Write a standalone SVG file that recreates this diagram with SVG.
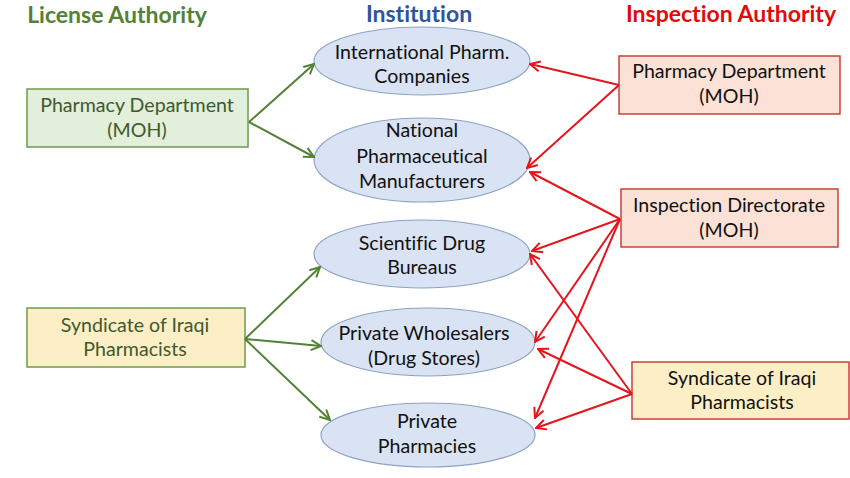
<svg xmlns="http://www.w3.org/2000/svg" width="850" height="478" viewBox="0 0 850 478">
<defs>
<marker id="ag" viewBox="0 0 12 12" refX="11" refY="6" markerWidth="12" markerHeight="12" markerUnits="userSpaceOnUse" orient="auto">
<path d="M1,1 L11,6 L1,11" fill="none" stroke="#548235" stroke-width="2"/>
</marker>
<marker id="ar" viewBox="0 0 12 12" refX="11" refY="6" markerWidth="12" markerHeight="12" markerUnits="userSpaceOnUse" orient="auto">
<path d="M1,1 L11,6 L1,11" fill="none" stroke="#e3161d" stroke-width="2"/>
</marker>
</defs>
<style>
text{font-family:Lato,"Open Sans","Liberation Sans",sans-serif;font-size:19.6px;text-anchor:middle;fill:#111;font-variant-ligatures:none;font-feature-settings:"liga" 0}
.title{font-size:23px;font-weight:bold}
.lt{fill:#40592e}
.gbox{fill:#e2efda;stroke:#6d9a4a;stroke-width:1.5}
.ybox{fill:#fcefc5;stroke:#6d9a4a;stroke-width:1.5}
.rbox{fill:#fbe1d6;stroke:#c8413c;stroke-width:1.5}
.rybox{fill:#fcefc5;stroke:#c8413c;stroke-width:1.5}
.ell{fill:#dae3f3;stroke:#8da3c4;stroke-width:1.2}
.g{stroke:#548235;stroke-width:2;fill:none;marker-end:url(#ag)}
.r{stroke:#e3161d;stroke-width:2;fill:none;marker-end:url(#ar)}
</style>
<rect width="850" height="478" fill="#fff"/>
<text class="title" x="117" y="23" style="fill:#538135">License Authority</text>
<text class="title" x="419" y="22" style="fill:#2f5597">Institution</text>
<text class="title" x="731" y="22" style="fill:#e00b0b">Inspection Authority</text>

<g id="lic-moh">
<rect class="gbox" x="27" y="89" width="221" height="58"/>
<text class="lt" x="137" y="112">Pharmacy Department</text>
<text class="lt" x="137" y="137">(MOH)</text>
</g>
<g id="lic-syn">
<rect class="ybox" x="27" y="308" width="218" height="59"/>
<text class="lt" x="135" y="332">Syndicate of Iraqi</text>
<text class="lt" x="135" y="356">Pharmacists</text>
</g>

<g id="inst-intl">
<ellipse class="ell" cx="422" cy="61" rx="108" ry="34"/>
<text x="422" y="59">International Pharm.</text>
<text x="422" y="83">Companies</text>
</g>
<g id="inst-natl">
<ellipse class="ell" cx="422" cy="160" rx="108" ry="42"/>
<text x="422" y="137">National</text>
<text x="422" y="163">Pharmaceutical</text>
<text x="422" y="188">Manufacturers</text>
</g>
<g id="inst-sci">
<ellipse class="ell" cx="422" cy="254" rx="108" ry="34"/>
<text x="422" y="250">Scientific Drug</text>
<text x="422" y="274">Bureaus</text>
</g>
<g id="inst-whole">
<ellipse class="ell" cx="428" cy="342" rx="107" ry="34"/>
<text x="424" y="340">Private Wholesalers</text>
<text x="424" y="365">(Drug Stores)</text>
</g>
<g id="inst-pharm">
<ellipse class="ell" cx="428" cy="435" rx="107" ry="32"/>
<text x="427" y="428">Private</text>
<text x="427" y="453">Pharmacies</text>
</g>

<g id="insp-moh">
<rect class="rbox" x="619" y="56" width="221" height="58"/>
<text x="729" y="78">Pharmacy Department</text>
<text x="729" y="103">(MOH)</text>
</g>
<g id="insp-dir">
<rect class="rbox" x="621" y="189" width="217" height="58"/>
<text x="729" y="212">Inspection Directorate</text>
<text x="729" y="237">(MOH)</text>
</g>
<g id="insp-syn">
<rect class="rybox" x="632" y="362" width="217" height="57"/>
<text x="742" y="385">Syndicate of Iraqi</text>
<text x="742" y="409">Pharmacists</text>
</g>

<g id="connectors">
<path class="g" d="M249,122 L314,64"/>
<path class="g" d="M249,122 L314,157"/>
<path class="g" d="M245,339 L320,267"/>
<path class="g" d="M245,339 L321,346"/>
<path class="g" d="M245,339 L330,420"/>
<path class="r" d="M619,85 L530,64"/>
<path class="r" d="M619,85 L527,168"/>
<path class="r" d="M620,219 L530,172"/>
<path class="r" d="M620,219 L532,251"/>
<path class="r" d="M620,219 L535,342"/>
<path class="r" d="M620,219 L535,418"/>
<path class="r" d="M632,394 L530,254"/>
<path class="r" d="M632,394 L538,349"/>
<path class="r" d="M632,394 L536,428"/>
</g>
</svg>
